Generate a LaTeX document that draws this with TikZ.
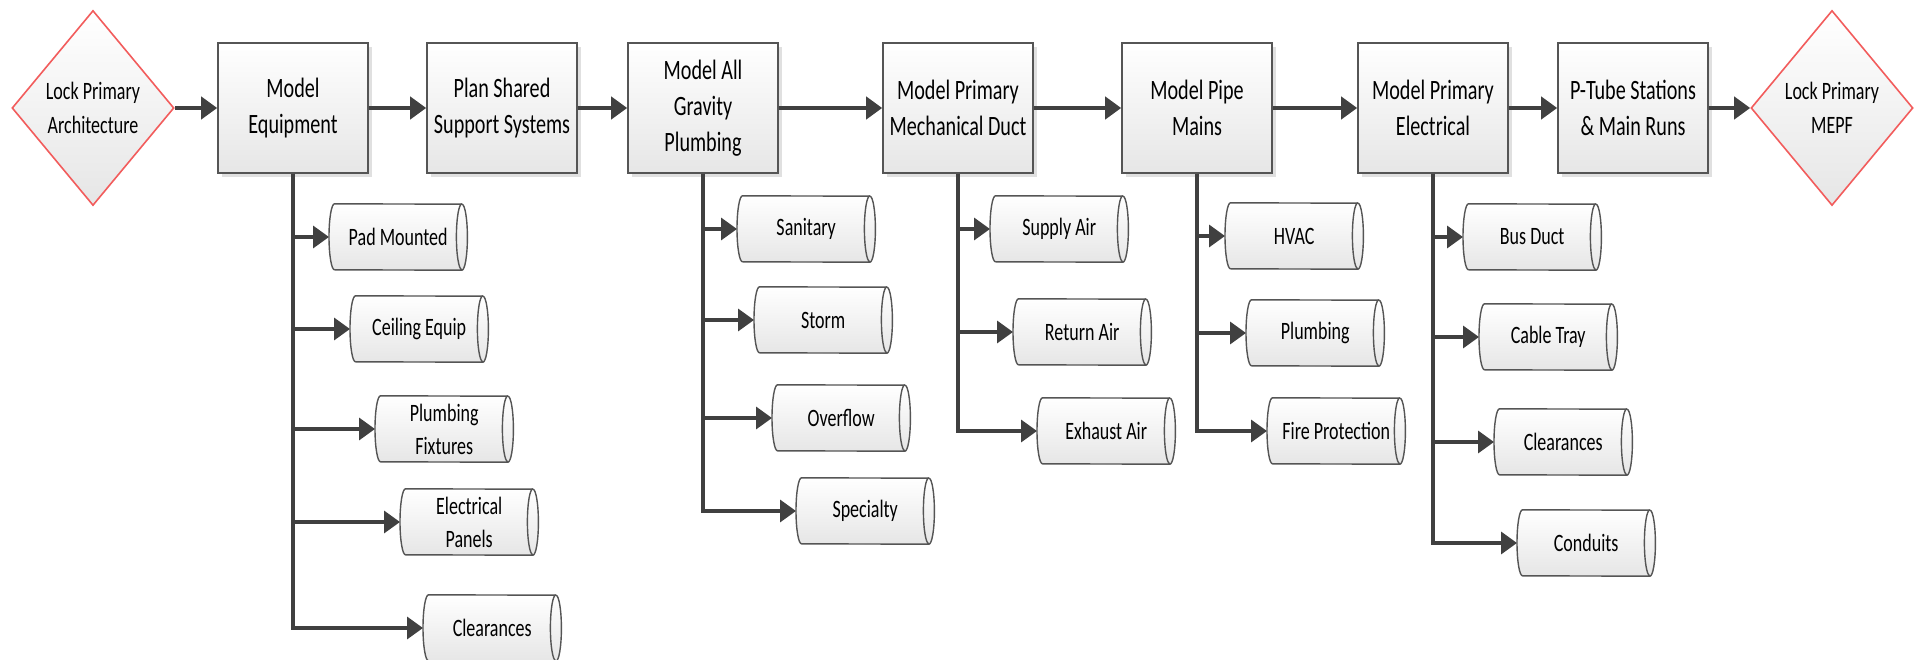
\documentclass[tikz,border=0pt]{standalone}
\usepackage{fontspec}
\setmainfont{Carlito}[FakeStretch=0.72]
\usetikzlibrary{shapes.geometric, arrows.meta, shadows, backgrounds}

\definecolor{linegray}{HTML}{404040}
\definecolor{edgegray}{HTML}{555555}
\definecolor{lockred}{HTML}{F25C5C}
\definecolor{fillbot}{HTML}{E6E6E6}

\tikzset{
  stepbox/.style={rectangle, draw=edgegray, line width=1.6pt,
    top color=white, bottom color=fillbot,
    minimum width=150pt, minimum height=130pt, inner sep=2pt,
    align=center, font=\fontsize{28}{36}\selectfont, text=black,
    drop shadow={shadow xshift=4pt, shadow yshift=-4pt, fill=black, opacity=0.12}},
  lockgate/.style={diamond, draw=lockred, line width=1.6pt,
    top color=white, bottom color=fillbot,
    minimum width=162pt, minimum height=195pt, inner sep=0pt, aspect=0.83,
    align=center, font=\fontsize{25}{34}\selectfont, text=black},
  tubelabel/.style={rectangle, minimum width=138pt, minimum height=66pt,
    inner sep=0pt, align=center, font=\fontsize{25}{33}\selectfont, text=black},
  flow/.style={draw=linegray, line width=4pt, -{Triangle[length=16pt,width=22pt]}},
  feed/.style={draw=linegray, line width=3.5pt, -{Triangle[length=16pt,width=22pt]}},
  tubeline/.style={draw=edgegray, line width=1.4pt},
}

\begin{document}
\begin{tikzpicture}[x=1pt, y=-1pt]
\useasboundingbox (0,0) rectangle (1915,660);

% main sequence
\node[lockgate] (lockA) at (93,108) {Lock Primary\\Architecture};
\node[stepbox] (eq)    at (293,108)  {Model\\Equipment};
\node[stepbox] (plan)  at (502,108)  {Plan Shared\\Support Systems};
\node[stepbox] (grav)  at (703,108)  {Model All\\Gravity\\Plumbing};
\node[stepbox] (mech)  at (958,108)  {Model Primary\\Mechanical Duct};
\node[stepbox] (pipe)  at (1197,108) {Model Pipe\\Mains};
\node[stepbox] (elec)  at (1433,108) {Model Primary\\Electrical};
\node[stepbox] (ptube) at (1633,108) {P-Tube Stations\\\& Main Runs};
\node[lockgate] (lockB) at (1832,108) {Lock Primary\\MEPF};

% equipment items
\node[tubelabel, anchor=west] (pad)   at (329,237) {Pad Mounted};
\node[tubelabel, anchor=west] (ceil)  at (350,329) {Ceiling Equip};
\node[tubelabel, anchor=west] (fix)   at (375,429) {Plumbing\\Fixtures};
\node[tubelabel, anchor=west] (pan)   at (400,522) {Electrical\\Panels};
\node[tubelabel, anchor=west] (clrA)  at (423,628) {Clearances};

% gravity plumbing items
\node[tubelabel, anchor=west] (san)   at (737,229) {Sanitary};
\node[tubelabel, anchor=west] (storm) at (754,320) {Storm};
\node[tubelabel, anchor=west] (over)  at (772,418) {Overflow};
\node[tubelabel, anchor=west] (spec)  at (796,511) {Specialty};

% duct items
\node[tubelabel, anchor=west] (sup)   at (990,229)  {Supply Air};
\node[tubelabel, anchor=west] (ret)   at (1013,332) {Return Air};
\node[tubelabel, anchor=west] (exh)   at (1037,431) {Exhaust Air};

% pipe items
\node[tubelabel, anchor=west] (hvac)  at (1225,236) {HVAC};
\node[tubelabel, anchor=west] (plb)   at (1246,333) {Plumbing};
\node[tubelabel, anchor=west] (fire)  at (1267,431) {Fire Protection};

% electrical items
\node[tubelabel, anchor=west] (bus)   at (1463,237) {Bus Duct};
\node[tubelabel, anchor=west] (tray)  at (1479,337) {Cable Tray};
\node[tubelabel, anchor=west] (clrB)  at (1494,442) {Clearances};
\node[tubelabel, anchor=west] (cond)  at (1517,543) {Conduits};

% cylinder bodies behind the labels
\begin{scope}[on background layer]
  \fill[white] (0,0) rectangle (1915,660);
  \foreach \c in {pad,ceil,fix,pan,clrA,san,storm,over,spec,sup,ret,exh,hvac,plb,fire,bus,tray,clrB,cond}{
    \begin{scope}[xshift=3pt, yshift=-3pt]
      \fill[black, opacity=0.10] ([xshift=5.5pt]\c.north west)
        arc[start angle=90, end angle=270, x radius=5.5pt, y radius=33pt]
        -- ([xshift=-5.5pt]\c.south east)
        arc[start angle=-90, end angle=90, x radius=5.5pt, y radius=33pt] -- cycle;
    \end{scope}
    \path[tubeline, top color=white, bottom color=fillbot] ([xshift=5.5pt]\c.north west)
      arc[start angle=90, end angle=270, x radius=5.5pt, y radius=33pt]
      -- ([xshift=-5.5pt]\c.south east)
      arc[start angle=-90, end angle=90, x radius=5.5pt, y radius=33pt] -- cycle;
    \draw[tubeline] ([xshift=-5.5pt]\c.north east)
      arc[start angle=90, end angle=270, x radius=5.5pt, y radius=33pt];
  }
\end{scope}

% sequence arrows
\draw[flow] (lockA.east) -- (eq.west);
\draw[flow] (eq.east) -- (plan.west);
\draw[flow] (plan.east) -- (grav.west);
\draw[flow] (grav.east) -- (mech.west);
\draw[flow] (mech.east) -- (pipe.west);
\draw[flow] (pipe.east) -- (elec.west);
\draw[flow] (elec.east) -- (ptube.west);
\draw[flow] (ptube.east) -- (lockB.west);

% branch arrows
\foreach \t in {pad,ceil,fix,pan,clrA} \draw[feed] (eq.south) |- (\t.west);
\foreach \t in {san,storm,over,spec} \draw[feed] (grav.south) |- (\t.west);
\foreach \t in {sup,ret,exh} \draw[feed] (mech.south) |- (\t.west);
\foreach \t in {hvac,plb,fire} \draw[feed] (pipe.south) |- (\t.west);
\foreach \t in {bus,tray,clrB,cond} \draw[feed] (elec.south) |- (\t.west);
\end{tikzpicture}
\end{document}
